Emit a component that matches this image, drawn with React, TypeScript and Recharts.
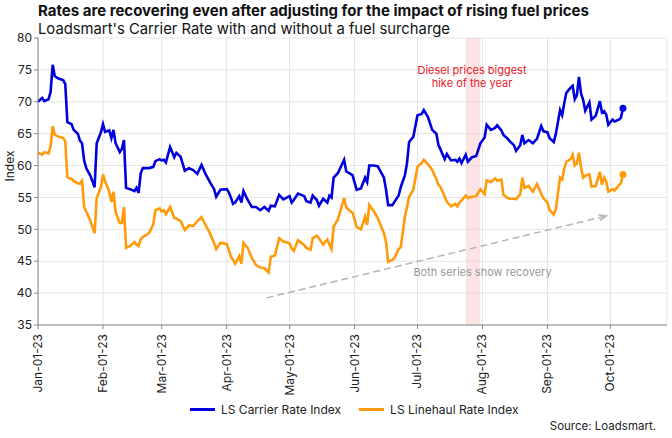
import {
  CartesianGrid,
  Legend,
  Line,
  LineChart,
  ReferenceArea,
  ReferenceDot,
  ReferenceLine,
  XAxis,
  YAxis,
} from "recharts";

const dates = [
  "2023-01-01", "2023-01-03", "2023-01-04", "2023-01-06", "2023-01-07", "2023-01-08", "2023-01-09", "2023-01-11",
  "2023-01-13", "2023-01-14", "2023-01-15", "2023-01-17", "2023-01-18", "2023-01-20", "2023-01-21", "2023-01-22",
  "2023-01-23", "2023-01-24", "2023-01-26", "2023-01-28", "2023-01-29", "2023-01-31", "2023-02-01", "2023-02-02",
  "2023-02-04", "2023-02-05", "2023-02-06", "2023-02-07", "2023-02-09", "2023-02-10", "2023-02-11", "2023-02-12",
  "2023-02-14", "2023-02-16", "2023-02-17", "2023-02-18", "2023-02-19", "2023-02-20", "2023-02-23", "2023-02-25",
  "2023-02-26", "2023-02-28", "2023-03-01", "2023-03-02", "2023-03-03", "2023-03-05", "2023-03-07", "2023-03-08",
  "2023-03-10", "2023-03-12", "2023-03-14", "2023-03-16", "2023-03-18", "2023-03-20", "2023-03-22", "2023-03-24",
  "2023-03-26", "2023-03-27", "2023-03-29", "2023-04-01", "2023-04-02", "2023-04-03", "2023-04-04", "2023-04-05",
  "2023-04-07", "2023-04-08", "2023-04-09", "2023-04-11", "2023-04-13", "2023-04-15", "2023-04-17", "2023-04-19",
  "2023-04-21", "2023-04-22", "2023-04-24", "2023-04-26", "2023-04-28", "2023-05-01", "2023-05-02", "2023-05-03",
  "2023-05-05", "2023-05-08", "2023-05-09", "2023-05-11", "2023-05-12", "2023-05-14", "2023-05-15", "2023-05-17",
  "2023-05-19", "2023-05-20", "2023-05-21", "2023-05-22", "2023-05-24", "2023-05-27", "2023-05-28", "2023-05-31",
  "2023-06-02", "2023-06-04", "2023-06-06", "2023-06-07", "2023-06-08", "2023-06-10", "2023-06-12", "2023-06-15",
  "2023-06-16", "2023-06-17", "2023-06-19", "2023-06-20", "2023-06-22", "2023-06-23", "2023-06-25", "2023-06-26",
  "2023-06-27", "2023-06-29", "2023-07-01", "2023-07-03", "2023-07-04", "2023-07-06", "2023-07-08", "2023-07-10",
  "2023-07-11", "2023-07-12", "2023-07-14", "2023-07-15", "2023-07-17", "2023-07-19", "2023-07-20", "2023-07-21",
  "2023-07-22", "2023-07-24", "2023-07-25", "2023-07-27", "2023-07-29", "2023-07-31", "2023-08-02", "2023-08-03",
  "2023-08-05", "2023-08-07", "2023-08-08", "2023-08-10", "2023-08-11", "2023-08-13", "2023-08-14", "2023-08-16",
  "2023-08-17", "2023-08-19", "2023-08-20", "2023-08-21", "2023-08-23", "2023-08-25", "2023-08-27", "2023-08-29",
  "2023-08-30", "2023-09-01", "2023-09-02", "2023-09-04", "2023-09-05", "2023-09-07", "2023-09-08", "2023-09-09",
  "2023-09-10", "2023-09-12", "2023-09-13", "2023-09-14", "2023-09-15", "2023-09-16", "2023-09-17", "2023-09-18",
  "2023-09-19", "2023-09-21", "2023-09-22", "2023-09-24", "2023-09-26", "2023-09-27", "2023-09-28", "2023-09-29",
  "2023-09-30", "2023-10-02", "2023-10-03", "2023-10-05", "2023-10-06", "2023-10-07",
];

const carrierRate = [
  70.0, 70.6, 70.1, 70.4, 71.5, 75.8, 74.0, 73.6, 73.4, 72.8, 66.8, 66.5, 65.6, 65.0, 63.9, 63.5,
  60.8, 59.6, 58.4, 56.6, 63.5, 65.2, 66.5, 65.3, 65.5, 64.3, 65.6, 63.5, 62.1, 62.6, 64.0, 56.5,
  56.3, 56.0, 56.5, 55.7, 58.8, 59.6, 59.6, 59.8, 60.7, 61.0, 60.8, 60.9, 60.5, 62.9, 61.3, 62.0,
  61.4, 59.2, 59.6, 59.3, 58.7, 60.1, 58.6, 57.4, 56.3, 55.1, 56.2, 56.3, 55.8, 55.0, 54.0, 54.2,
  55.2, 54.2, 56.0, 54.6, 53.5, 53.5, 53.0, 53.5, 52.9, 53.7, 53.6, 55.4, 54.7, 55.2, 54.2, 54.6,
  55.6, 55.2, 54.4, 54.2, 55.3, 54.6, 53.7, 54.8, 54.2, 55.3, 55.0, 58.1, 58.8, 60.9, 59.1, 58.5,
  56.2, 56.4, 58.1, 57.4, 60.0, 60.0, 59.9, 58.1, 56.2, 53.8, 53.8, 54.3, 55.3, 56.6, 58.5, 60.4,
  63.7, 64.5, 67.9, 68.1, 68.7, 67.6, 65.6, 65.0, 63.2, 62.5, 61.0, 61.8, 60.8, 60.9, 60.6, 61.1,
  60.4, 61.7, 60.6, 61.3, 61.5, 63.5, 64.4, 66.4, 65.6, 65.9, 66.3, 65.5, 64.8, 64.2, 63.8, 63.2,
  62.3, 63.2, 64.8, 63.5, 64.0, 63.5, 64.2, 66.2, 65.4, 65.2, 64.3, 63.7, 65.0, 68.7, 67.9, 69.8,
  71.4, 72.2, 72.5, 70.4, 71.0, 73.9, 71.3, 70.3, 68.6, 69.9, 67.2, 67.8, 70.1, 68.3, 68.5, 68.0,
  66.4, 67.2, 66.9, 67.2, 67.5, 69.0,
];

const linehaulRate = [
  62.0, 61.7, 62.1, 61.9, 63.0, 66.2, 64.8, 64.5, 64.3, 63.8, 58.2, 57.9, 57.6, 57.2, 57.2, 57.6,
  53.5, 52.8, 51.3, 49.4, 54.9, 56.6, 58.6, 57.5, 55.9, 54.3, 55.9, 52.7, 51.0, 51.0, 53.5, 47.1,
  47.4, 48.0, 47.6, 47.4, 48.5, 48.8, 49.4, 50.8, 53.0, 53.3, 52.8, 53.0, 52.4, 53.5, 51.8, 51.7,
  51.3, 49.9, 50.6, 50.5, 51.3, 51.9, 50.6, 49.4, 47.8, 46.9, 47.9, 47.7, 46.8, 45.7, 45.2, 44.6,
  45.8, 44.6, 47.9, 47.1, 45.5, 44.4, 44.0, 43.9, 43.2, 45.7, 45.9, 48.6, 48.1, 47.8, 47.0, 46.6,
  48.3, 47.5, 47.1, 46.8, 48.6, 49.0, 48.6, 47.6, 48.4, 47.6, 46.9, 50.4, 51.5, 54.9, 53.4, 52.6,
  50.4, 50.0, 52.0, 50.7, 53.8, 52.9, 51.8, 49.4, 48.0, 44.9, 45.2, 45.5, 46.9, 47.2, 52.0, 53.5,
  55.1, 56.2, 59.8, 60.4, 60.9, 60.2, 59.3, 57.9, 57.0, 56.6, 55.1, 54.3, 53.6, 54.0, 53.6, 54.2,
  54.5, 55.3, 54.9, 55.1, 55.2, 56.3, 55.5, 57.7, 57.4, 58.0, 57.6, 57.8, 55.4, 54.9, 54.8, 54.8,
  54.7, 55.5, 58.1, 56.5, 56.8, 55.9, 57.1, 55.6, 54.9, 54.2, 53.0, 52.3, 53.2, 58.1, 57.8, 59.5,
  60.6, 61.0, 61.7, 60.0, 60.3, 62.0, 59.7, 58.1, 58.4, 58.6, 56.7, 56.8, 59.0, 57.0, 58.1, 57.5,
  55.9, 56.3, 56.1, 56.9, 57.2, 58.6,
];

const monthTicks = [
  "2023-01-01", "2023-02-01", "2023-03-01", "2023-04-01", "2023-05-01",
  "2023-06-01", "2023-07-01", "2023-08-01", "2023-09-01", "2023-10-01",
];
const yTicks = [35, 40, 45, 50, 55, 60, 65, 70, 75, 80];
const monthNames = ["Jan", "Feb", "Mar", "Apr", "May", "Jun", "Jul", "Aug", "Sep", "Oct", "Nov", "Dec"];

const ts = (d: string) => new Date(d).getTime();

const data = dates.map((d, i) => ({
  t: ts(d),
  carrier: carrierRate[i],
  linehaul: linehaulRate[i],
}));

const BLUE = "#0000dc";
const ORANGE = "#ff9a0a";
const FONT = "Inter, 'Noto Sans', sans-serif";
const last = data.length - 1;

const fmtDate = (v: number) => {
  const d = new Date(v);
  const dd = String(d.getUTCDate()).padStart(2, "0");
  return `${monthNames[d.getUTCMonth()]}-${dd}-23`;
};

const DateTick = (props: any) => {
  const { x, y, payload } = props;
  return (
    <text
      transform={`translate(${x + 4},${y + 3}) rotate(-90)`}
      textAnchor="end"
      fontSize={12}
      fill="#222"
      fontFamily={FONT}
    >
      {fmtDate(payload.value)}
    </text>
  );
};

const endDot = (color: string) => (props: any) => {
  if (props.index !== last) return <g key={props.index} />;
  return <circle key={props.index} cx={props.cx} cy={props.cy} r={3.5} fill={color} />;
};

const Arrow = (p: any) => {
  const { x1, y1, x2, y2 } = p;
  const ang = Math.atan2(y2 - y1, x2 - x1);
  const L = 8;
  const a1 = ang + Math.PI - 0.4;
  const a2 = ang + Math.PI + 0.4;
  return (
    <g>
      <line x1={x1} y1={y1} x2={x2} y2={y2} stroke="#b5b5b5" strokeWidth={1.5} strokeDasharray="7 4" />
      <path
        d={`M${x2 + L * Math.cos(a1)},${y2 + L * Math.sin(a1)} L${x2},${y2} L${x2 + L * Math.cos(a2)},${y2 + L * Math.sin(a2)}`}
        fill="none"
        stroke="#b5b5b5"
        strokeWidth={1.5}
      />
    </g>
  );
};

const DieselNote = (p: any) => (
  <text x={p.cx} y={p.cy} textAnchor="middle" fontSize={11} fill="#e8202a" fontFamily={FONT}>
    <tspan x={p.cx} dy={4}>Diesel prices biggest</tspan>
    <tspan x={p.cx} dy={13}>hike of the year</tspan>
  </text>
);

const RecoveryNote = (p: any) => (
  <text x={p.cx} y={p.cy + 4} textAnchor="middle" fontSize={11} fill="#999" fontFamily={FONT}>
    Both series show recovery
  </text>
);

const LegendContent = (props: any) => (
  <div style={{ display: "flex", fontFamily: FONT, fontSize: 12, color: "#222", lineHeight: "15px" }}>
    {props.payload.map((e: any) => (
      <div key={e.value} style={{ display: "flex", alignItems: "center", marginRight: 18 }}>
        <div style={{ width: 25, height: 3, background: e.color, marginRight: 6 }} />
        {e.value}
      </div>
    ))}
  </div>
);

export default function App() {
  return (
    <div style={{ position: "absolute", left: 0, top: 0, width: 672, height: 438, background: "#fff" }}>
      <div
        style={{
          position: "absolute",
          left: 38,
          top: 3,
          fontFamily: FONT,
          fontWeight: 700,
          fontSize: 15,
          lineHeight: "16px",
          color: "#111",
          whiteSpace: "nowrap",
        }}
      >
        Rates are recovering even after adjusting for the impact of rising fuel prices
      </div>
      <div
        style={{
          position: "absolute",
          left: 38,
          top: 21,
          fontFamily: FONT,
          fontSize: 14.8,
          lineHeight: "16px",
          color: "#111",
          whiteSpace: "nowrap",
        }}
      >
        Loadsmart's Carrier Rate with and without a fuel surcharge
      </div>
      <LineChart width={672} height={438} data={data} margin={{ top: 38, right: 5, left: 0, bottom: 38 }}>
        <CartesianGrid stroke="#e4e4e4" />
        <XAxis
          dataKey="t"
          type="number"
          scale="time"
          domain={[ts("2023-01-01"), ts("2023-10-28")]}
          ticks={monthTicks.map(ts)}
          tick={<DateTick />}
          height={60}
          stroke="#888"
          tickSize={4}
          interval={0}
        />
        <YAxis
          domain={[35, 80]}
          ticks={yTicks}
          width={38}
          stroke="#888"
          tickSize={4}
          tick={{ fontSize: 12, fill: "#222", fontFamily: FONT }}
          label={{ value: "Index", angle: -90, position: "insideLeft", offset: 10, style: { fontSize: 12, fill: "#222", fontFamily: FONT } }}
        />
        <ReferenceArea x1={ts("2023-07-24")} x2={ts("2023-07-31")} fill="#f9c9cc" fillOpacity={0.5} stroke="none" />
        <ReferenceLine
          segment={[
            { x: ts("2023-04-20"), y: 39.25 },
            { x: ts("2023-09-29"), y: 52.1 },
          ]}
          shape={Arrow}
        />
        <ReferenceDot x={ts("2023-07-27")} y={75} r={0} shape={DieselNote} />
        <ReferenceDot x={ts("2023-08-01")} y={43.3} r={0} shape={RecoveryNote} />
        <Line
          name="LS Carrier Rate Index"
          dataKey="carrier"
          type="linear"
          stroke={BLUE}
          strokeWidth={2.6}
          dot={endDot(BLUE)}
          activeDot={false}
          isAnimationActive={false}
        />
        <Line
          name="LS Linehaul Rate Index"
          dataKey="linehaul"
          type="linear"
          stroke={ORANGE}
          strokeWidth={2.6}
          dot={endDot(ORANGE)}
          activeDot={false}
          isAnimationActive={false}
        />
        <Legend
          content={<LegendContent />}
          wrapperStyle={{ position: "absolute", top: 402, left: 190, width: "auto" }}
        />
      </LineChart>
      <div
        style={{
          position: "absolute",
          right: 16,
          top: 419,
          fontFamily: FONT,
          fontSize: 11.5,
          color: "#222",
        }}
      >
        Source: Loadsmart.
      </div>
    </div>
  );
}
